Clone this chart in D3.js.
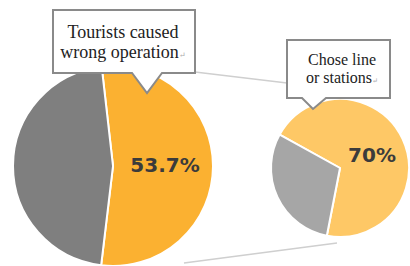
<!DOCTYPE html>
<html>
<head>
<meta charset="utf-8">
<script src="https://cdn.jsdelivr.net/npm/d3@7"></script>
<style>
  html, body { margin: 0; padding: 0; background: #fff; }
  svg { display: block; }
  .callout-text { font-family: 'Liberation Serif', 'Times New Roman', 'DejaVu Serif', serif; }
  .pct { font-family: 'DejaVu Sans', Verdana, sans-serif; font-weight: bold; }
</style>
</head>
<body>
<div id="chart"></div>
<script>
// main pie and the breakdown of its orange slice
var mainCategories = ['Tourists caused wrong operation', 'Other causes'];
var mainValues = [53.7, 46.3];
var subCategories = ['Chose line or stations', 'Other operations'];
var subValues = [70, 30];
var mainCallout = ['Tourists caused', 'wrong operation'];
var subCallout = ['Chose line', 'or stations'];

var width = 410, height = 266;

var svg = d3.select('#chart')
  .append('svg')
  .attr('width', width)
  .attr('height', height);

var deg = Math.PI / 180;

function drawPie (cfg) {
  var pie = d3.pie()
    .sort(null)
    .startAngle(cfg.start * deg)
    .endAngle(cfg.start * deg + 2 * Math.PI);

  var arc = d3.arc()
    .innerRadius(0)
    .outerRadius(cfg.r);

  var g = svg.append('g')
    .attr('class', 'pie')
    .attr('transform', 'translate(' + cfg.cx + ',' + cfg.cy + ')');

  g.selectAll('path.slice')
    .data(pie(cfg.values))
    .enter().append('path')
    .attr('class', 'slice')
    .attr('d', arc)
    .attr('fill', function(d, i) { return cfg.colors[i]; })
    .attr('stroke', '#fff')
    .attr('stroke-width', 2)
    .attr('stroke-linejoin', 'round');

  g.append('text')
    .attr('class', 'pct')
    .attr('x', cfg.labelX)
    .attr('y', cfg.labelY)
    .attr('text-anchor', 'middle')
    .attr('font-size', 20)
    .attr('fill', '#3b3b3b')
    .text(cfg.values[0] + '%');
}

// connector lines between the two pies
var connectors = [
  [[195, 72], [287, 83]],
  [[184, 263], [337, 243]]
];
svg.selectAll('line.connector')
  .data(connectors)
  .enter().append('line')
  .attr('class', 'connector')
  .attr('x1', function(d) { return d[0][0]; })
  .attr('y1', function(d) { return d[0][1]; })
  .attr('x2', function(d) { return d[1][0]; })
  .attr('y2', function(d) { return d[1][1]; })
  .attr('stroke', '#cfcfcf')
  .attr('stroke-width', 1.5);

drawPie({
  cx: 113, cy: 166, r: 100, start: -6.5,
  values: mainValues,
  colors: ['#fbb131', '#7f7f7f'],
  labelX: 52, labelY: 6
});

drawPie({
  cx: 340, cy: 168, r: 69, start: -61,
  values: subValues,
  colors: ['#fec866', '#a6a6a6'],
  labelX: 32, labelY: -6
});

function callout (box, lines, fontSize, lineGap) {
  var x0 = box.x, y0 = box.y, x1 = box.x + box.w, y1 = box.y + box.h;
  var path = d3.path();
  path.moveTo(x0, y0);
  path.lineTo(x1, y0);
  path.lineTo(x1, y1);
  path.lineTo(box.p1, y1);
  path.lineTo(box.tipX, box.tipY);
  path.lineTo(box.p0, y1);
  path.lineTo(x0, y1);
  path.closePath();

  svg.append('path')
    .attr('d', path.toString())
    .attr('fill', '#fff')
    .attr('stroke', '#8a8a8a')
    .attr('stroke-width', 2)
    .attr('stroke-linejoin', 'miter');

  var t = svg.append('text')
    .attr('class', 'callout-text')
    .attr('text-anchor', 'middle')
    .attr('font-size', fontSize)
    .attr('fill', '#222');

  lines.forEach(function(line, i) {
    t.append('tspan')
      .attr('x', box.textX)
      .attr('y', box.textY + i * lineGap)
      .text(line);
    if (i === lines.length - 1) {
      t.append('tspan')
        .attr('font-size', fontSize * 0.45)
        .attr('fill', '#aaa')
        .text('\u21B5');
    }
  });
}

callout({ x: 53, y: 10, w: 142, h: 63, p0: 132, p1: 162, tipX: 147, tipY: 93, textX: 123, textY: 38 },
  mainCallout, 18, 20);

callout({ x: 287, y: 40, w: 103, h: 58, p0: 302, p1: 326, tipX: 313, tipY: 109, textX: 342, textY: 65 },
  subCallout, 16, 18);
</script>
</body>
</html>
